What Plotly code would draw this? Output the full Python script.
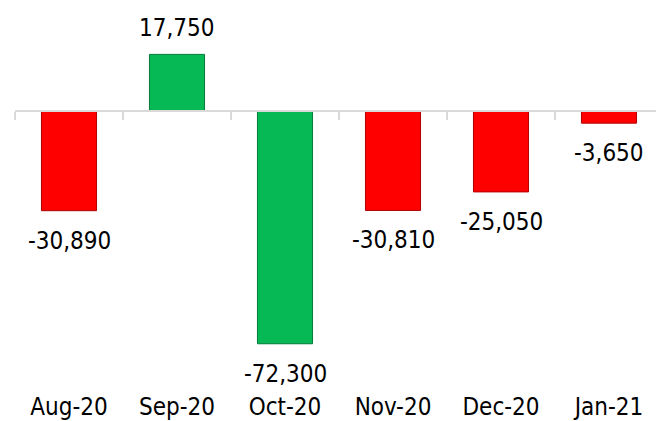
import plotly.graph_objects as go

months = ["Aug-20", "Sep-20", "Oct-20", "Nov-20", "Dec-20", "Jan-21"]
values = [-30890, 17750, -72300, -30810, -25050, -3650]
labels = ["-30,890", "17,750", "-72,300", "-30,810", "-25,050", "-3,650"]
bar_colors = ["#ff0000", "#07b955", "#07b955", "#ff0000", "#ff0000", "#ff0000"]
edge_colors = ["#b00000", "#017a3a", "#017a3a", "#b00000", "#b00000", "#b00000"]

FONT = "DejaVu Sans Condensed, Liberation Sans, Arial, sans-serif"

ymax = 34675
ymin = -86690
xr = [-0.5, -0.5 + 641 / 108]
zero_pos = (0 - ymin) / (ymax - ymin)

fig = go.Figure()
fig.add_trace(go.Bar(
    x=months, y=values, width=0.51,
    marker=dict(color=bar_colors, line=dict(color=edge_colors, width=1)),
    hoverinfo="skip", showlegend=False, xaxis="x", yaxis="y",
))
fig.add_trace(go.Scatter(
    x=months, y=[0] * len(months), mode="markers",
    marker=dict(opacity=0), hoverinfo="skip", showlegend=False,
    xaxis="x2", yaxis="y",
))

for m, v, t in zip(months, values, labels):
    if v < 0:
        fig.add_annotation(x=m, y=v, text=t, showarrow=False, yanchor="top",
                           yshift=-14, font=dict(size=24, color="#000000", family=FONT))
    else:
        fig.add_annotation(x=m, y=v, text=t, showarrow=False, yanchor="bottom",
                           yshift=10, font=dict(size=24, color="#000000", family=FONT))

fig.update_layout(
    width=656, height=421,
    margin=dict(l=15, r=0, t=0, b=29),
    paper_bgcolor="white", plot_bgcolor="white",
    bargap=0.49,
    xaxis=dict(
        type="category", categoryorder="array", categoryarray=months, range=xr,
        showticklabels=True, showline=False, showgrid=False, zeroline=False,
        ticks="", tickfont=dict(size=24, color="#000000", family=FONT),
        fixedrange=True,
    ),
    xaxis2=dict(
        type="category", categoryorder="array", categoryarray=months, range=xr,
        overlaying="x", anchor="free", position=zero_pos, side="bottom",
        showticklabels=False, showline=True, linecolor="#d9d9d9", linewidth=2,
        ticks="outside", tickson="boundaries", ticklen=8, tickwidth=2,
        tickcolor="#d9d9d9", showgrid=False, zeroline=False,
    ),
    yaxis=dict(
        range=[ymin, ymax], visible=False, showgrid=False, zeroline=False,
    ),
)

fig.write_html(
    "out.html",
    config={"displayModeBar": False, "staticPlot": True},
    post_script="document.body.style.margin='0';document.body.style.overflow='hidden';",
)
